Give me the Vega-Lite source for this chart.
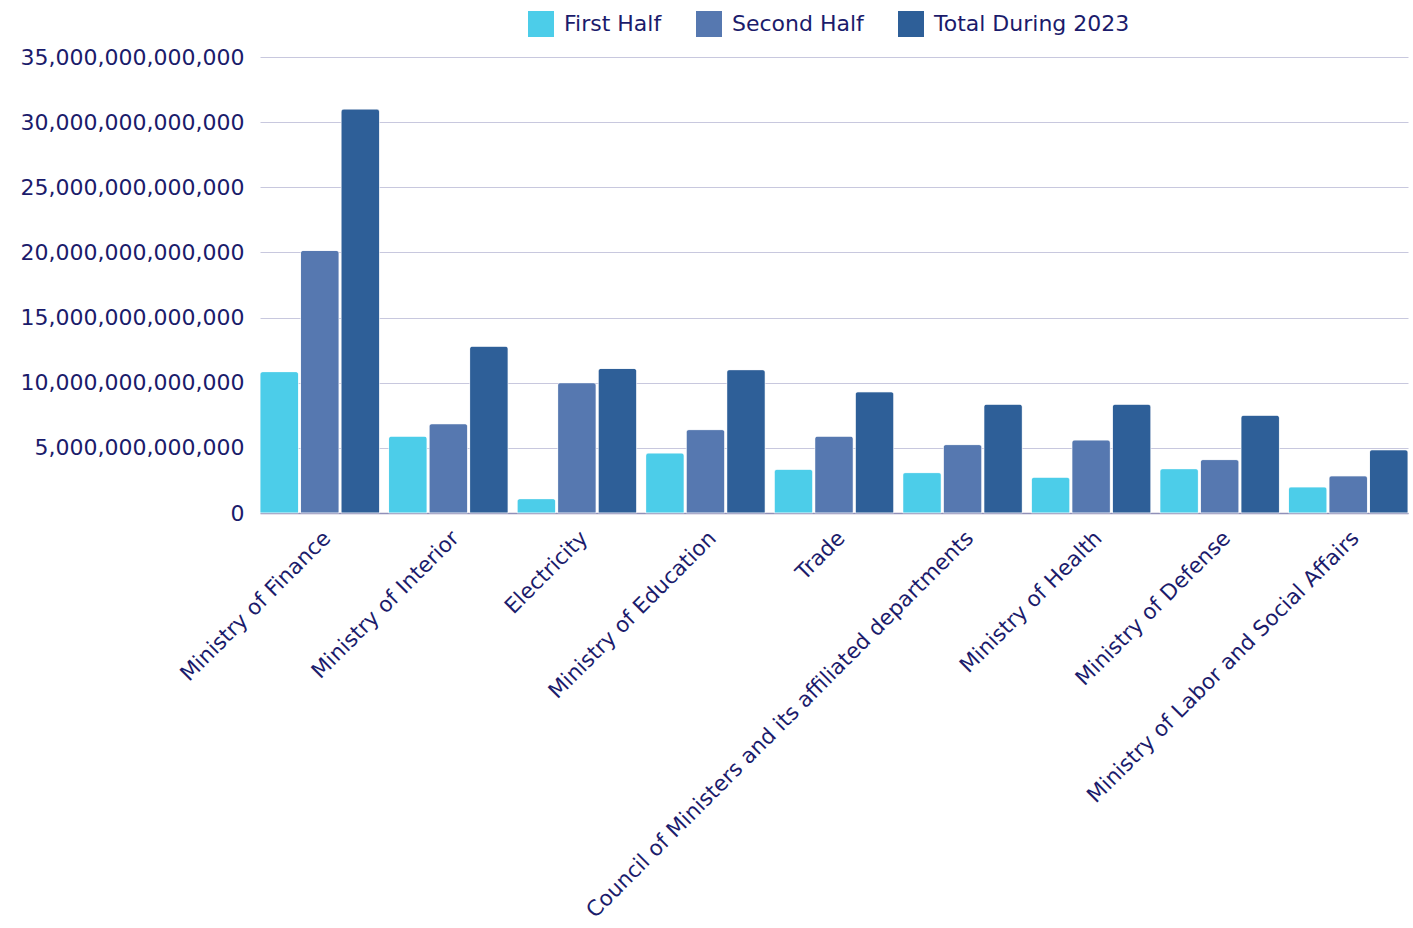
{
  "$schema": "https://vega.github.io/schema/vega-lite/v6.json",
  "width": 1148,
  "height": 456,
  "autosize": {"type": "none"},
  "padding": {"left": 260, "top": 57, "right": 5, "bottom": 415},
  "background": "white",
  "data": {
    "values": [
      {"ministry": "Ministry of Finance", "period": "First Half", "value": 10.85e12},
      {"ministry": "Ministry of Finance", "period": "Second Half", "value": 20.15e12},
      {"ministry": "Ministry of Finance", "period": "Total During 2023", "value": 31.0e12},
      {"ministry": "Ministry of Interior", "period": "First Half", "value": 5.9e12},
      {"ministry": "Ministry of Interior", "period": "Second Half", "value": 6.85e12},
      {"ministry": "Ministry of Interior", "period": "Total During 2023", "value": 12.8e12},
      {"ministry": "Electricity", "period": "First Half", "value": 1.1e12},
      {"ministry": "Electricity", "period": "Second Half", "value": 10.0e12},
      {"ministry": "Electricity", "period": "Total During 2023", "value": 11.1e12},
      {"ministry": "Ministry of Education", "period": "First Half", "value": 4.6e12},
      {"ministry": "Ministry of Education", "period": "Second Half", "value": 6.4e12},
      {"ministry": "Ministry of Education", "period": "Total During 2023", "value": 11.0e12},
      {"ministry": "Trade", "period": "First Half", "value": 3.35e12},
      {"ministry": "Trade", "period": "Second Half", "value": 5.9e12},
      {"ministry": "Trade", "period": "Total During 2023", "value": 9.3e12},
      {"ministry": "Council of Ministers and its affiliated departments", "period": "First Half", "value": 3.1e12},
      {"ministry": "Council of Ministers and its affiliated departments", "period": "Second Half", "value": 5.25e12},
      {"ministry": "Council of Ministers and its affiliated departments", "period": "Total During 2023", "value": 8.35e12},
      {"ministry": "Ministry of Health", "period": "First Half", "value": 2.75e12},
      {"ministry": "Ministry of Health", "period": "Second Half", "value": 5.6e12},
      {"ministry": "Ministry of Health", "period": "Total During 2023", "value": 8.35e12},
      {"ministry": "Ministry of Defense", "period": "First Half", "value": 3.4e12},
      {"ministry": "Ministry of Defense", "period": "Second Half", "value": 4.1e12},
      {"ministry": "Ministry of Defense", "period": "Total During 2023", "value": 7.5e12},
      {"ministry": "Ministry of Labor and Social Affairs", "period": "First Half", "value": 2.0e12},
      {"ministry": "Ministry of Labor and Social Affairs", "period": "Second Half", "value": 2.85e12},
      {"ministry": "Ministry of Labor and Social Affairs", "period": "Total During 2023", "value": 4.85e12}
    ]
  },
  "mark": {"type": "bar", "cornerRadiusTopLeft": 3, "cornerRadiusTopRight": 3, "stroke": "white", "strokeWidth": 0.5},
  "encoding": {
    "x": {
      "field": "ministry",
      "type": "nominal",
      "sort": null,
      "title": null,
      "scale": {"paddingInner": 0.07, "paddingOuter": 0.0},
      "axis": {
        "labelAngle": -45,
        "labelFontSize": 21.5,
        "labelColor": "#1b1b6b",
        "labelFont": "DejaVu Sans",
        "labelPadding": 14,
        "labelLimit": 600,
        "ticks": false,
        "tickSize": 0,
        "domain": true,
        "domainColor": "#9090b8",
        "domainWidth": 1.5,
        "grid": false
      }
    },
    "xOffset": {
      "field": "period",
      "type": "nominal",
      "sort": ["First Half", "Second Half", "Total During 2023"],
      "scale": {"paddingInner": 0.05, "paddingOuter": 0}
    },
    "y": {
      "field": "value",
      "type": "quantitative",
      "title": null,
      "scale": {"domain": [0, 35e12], "nice": false},
      "axis": {
        "values": [0, 5e12, 10e12, 15e12, 20e12, 25e12, 30e12, 35e12],
        "format": ",.0f",
        "labelFontSize": 22,
        "labelColor": "#1b1b6b",
        "labelFont": "DejaVu Sans",
        "labelPadding": 16,
        "labelLimit": 400,
        "ticks": false,
        "tickSize": 0,
        "tickOpacity": 0,
        "domain": false,
        "gridColor": "#c8c8de",
        "gridWidth": 1
      }
    },
    "color": {
      "field": "period",
      "type": "nominal",
      "sort": ["First Half", "Second Half", "Total During 2023"],
      "title": null,
      "scale": {
        "domain": ["First Half", "Second Half", "Total During 2023"],
        "range": ["#4ccde9", "#5678b0", "#2e5f98"]
      },
      "legend": {
        "orient": "none",
        "direction": "horizontal",
        "legendX": 268,
        "legendY": -46,
        "symbolType": "square",
        "symbolSize": 676,
        "symbolStrokeWidth": 0,
        "labelFontSize": 22,
        "labelColor": "#1b1b6b",
        "labelFont": "DejaVu Sans",
        "labelOffset": 10,
        "columnPadding": 34,
        "labelLimit": 400
      }
    }
  },
  "config": {"view": {"stroke": null}}
}
